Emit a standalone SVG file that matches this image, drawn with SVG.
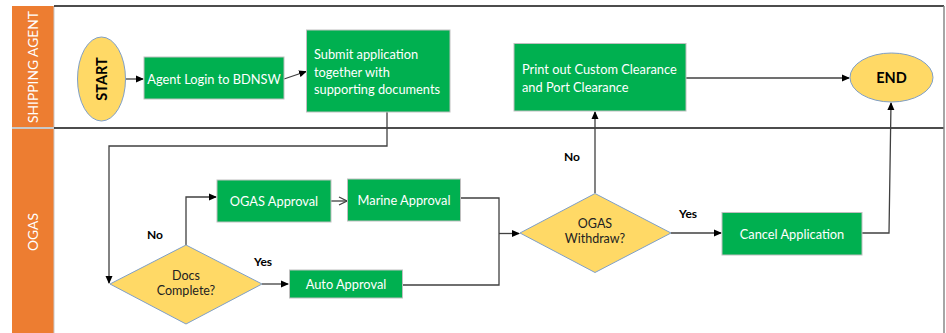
<svg xmlns="http://www.w3.org/2000/svg" width="946" height="333" viewBox="0 0 946 333">
<defs>
<marker id="ah" markerWidth="8" markerHeight="8" refX="7" refY="4" orient="auto" markerUnits="userSpaceOnUse">
<path d="M0,0.5 L8,4 L0,7.5 Z" fill="#000"/>
</marker>
<marker id="oh" markerWidth="10" markerHeight="10" refX="9" refY="5" orient="auto" markerUnits="userSpaceOnUse">
<path d="M1,1 L9,5 L1,9" fill="none" stroke="#404040" stroke-width="1.2"/>
</marker>
</defs>
<style>
.box{fill:#00B050;stroke:#BFBFBF;stroke-width:1}
.bt{fill:#fff;font-family:Lato,"Liberation Sans",sans-serif;font-size:12.8px}
.dia{fill:#FFD966;stroke:#7F9FC7;stroke-width:1}
.dt{fill:#222;font-family:Lato,"Liberation Sans",sans-serif;font-size:12.5px;text-anchor:middle}
.lbl{fill:#000;font-family:Lato,"Liberation Sans",sans-serif;font-size:12px;font-weight:bold}
.term{fill:#000;font-family:Lato,"Liberation Sans",sans-serif;font-size:14.5px;font-weight:bold;text-anchor:middle}
.lane{fill:#fff;font-family:Lato,"Liberation Sans",sans-serif;font-size:13.8px;text-anchor:middle}
.c{fill:none;stroke:#404040;stroke-width:1.3}
</style>
<rect width="946" height="333" fill="#fff"/>
<g id="lanes">
<rect x="12" y="6" width="42" height="121" fill="#ED7D31"/>
<rect x="12" y="129" width="42" height="204" fill="#ED7D31"/>
<line x1="12" y1="128" x2="54" y2="128" stroke="#C8C8C8" stroke-width="2"/>
<line x1="54" y1="6" x2="54" y2="333" stroke="#C8C8C8" stroke-width="1"/>
<line x1="54" y1="6" x2="944" y2="6" stroke="#111" stroke-width="1.3"/>
<line x1="54" y1="128" x2="944" y2="128" stroke="#111" stroke-width="1.3"/>
<line x1="944" y1="6" x2="944" y2="333" stroke="#888" stroke-width="1.5"/>
<text class="lane" transform="translate(38,67) rotate(-90)">SHIPPING AGENT</text>
<text class="lane" transform="translate(38,232) rotate(-90)">OGAS</text>
</g>
<g id="connectors">
<line class="c" x1="126" y1="79" x2="143" y2="79" marker-end="url(#ah)"/>
<line class="c" x1="284" y1="79" x2="306" y2="71.5" marker-end="url(#ah)"/>
<polyline class="c" points="387,112 387,146 109,146 109,283" marker-end="url(#ah)"/>
<polyline class="c" points="186,245 186,197 216,197" marker-end="url(#ah)"/>
<line class="c" x1="331" y1="201" x2="347" y2="201" marker-end="url(#oh)"/>
<line class="c" x1="262" y1="284" x2="288" y2="284" marker-end="url(#ah)"/>
<polyline class="c" points="460,198 499,198 499,285 402,285"/>
<line class="c" x1="499" y1="233.5" x2="519" y2="233.5" marker-end="url(#ah)"/>
<line class="c" x1="595" y1="193" x2="595" y2="112" marker-end="url(#ah)"/>
<line class="c" x1="671" y1="233" x2="721" y2="233" marker-end="url(#ah)"/>
<polyline class="c" points="862,233 889,233 891,103" marker-end="url(#ah)"/>
<line class="c" x1="686" y1="78" x2="849" y2="78" marker-end="url(#ah)"/>
</g>
<g id="start">
<ellipse cx="101.5" cy="79" rx="24" ry="42" fill="#FFD966" stroke="#7F9FC7"/>
<text class="term" transform="translate(106.5,79) rotate(-90)">START</text>
</g>
<g id="login">
<rect class="box" x="144" y="57" width="140" height="42"/>
<text class="bt" x="214" y="83.5" text-anchor="middle">Agent Login to BDNSW</text>
</g>
<g id="submit">
<rect class="box" x="306.5" y="30" width="143.5" height="82"/>
<text class="bt" x="314" y="59">Submit application</text>
<text class="bt" x="314" y="76.5">together with</text>
<text class="bt" x="314" y="93.5">supporting documents</text>
</g>
<g id="print">
<rect class="box" x="514" y="43.5" width="172" height="67.5"/>
<text class="bt" x="522" y="74">Print out Custom Clearance</text>
<text class="bt" x="522" y="91.5">and Port Clearance</text>
</g>
<g id="end">
<ellipse cx="891.5" cy="77.5" rx="41.5" ry="24.5" fill="#FFD966" stroke="#7F9FC7"/>
<text class="term" x="891.5" y="82.5">END</text>
</g>
<g id="docs">
<polygon class="dia" points="110,284 186,245 262,284 186,324"/>
<text class="dt" x="186" y="280">Docs</text>
<text class="dt" x="186" y="295">Complete?</text>
</g>
<g id="ogasapproval">
<rect class="box" x="217" y="180" width="114" height="42"/>
<text class="bt" x="274" y="206" text-anchor="middle">OGAS Approval</text>
</g>
<g id="marine">
<rect class="box" x="347.5" y="179" width="113" height="42"/>
<text class="bt" x="404" y="205" text-anchor="middle">Marine Approval</text>
</g>
<g id="auto">
<rect class="box" x="289.5" y="270" width="113" height="28"/>
<text class="bt" x="346" y="289" text-anchor="middle">Auto Approval</text>
</g>
<g id="withdraw">
<polygon class="dia" points="520,233 595,193.5 671,233 595,272.5"/>
<text class="dt" x="595" y="228">OGAS</text>
<text class="dt" x="595" y="243">Withdraw?</text>
</g>
<g id="cancel">
<rect class="box" x="722" y="212.5" width="140" height="42.5"/>
<text class="bt" x="792" y="238.5" text-anchor="middle">Cancel Application</text>
</g>
<g id="labels">
<text class="lbl" x="147" y="238.5">No</text>
<text class="lbl" x="254" y="266">Yes</text>
<text class="lbl" x="564" y="161">No</text>
<text class="lbl" x="679" y="218">Yes</text>
</g>
</svg>
